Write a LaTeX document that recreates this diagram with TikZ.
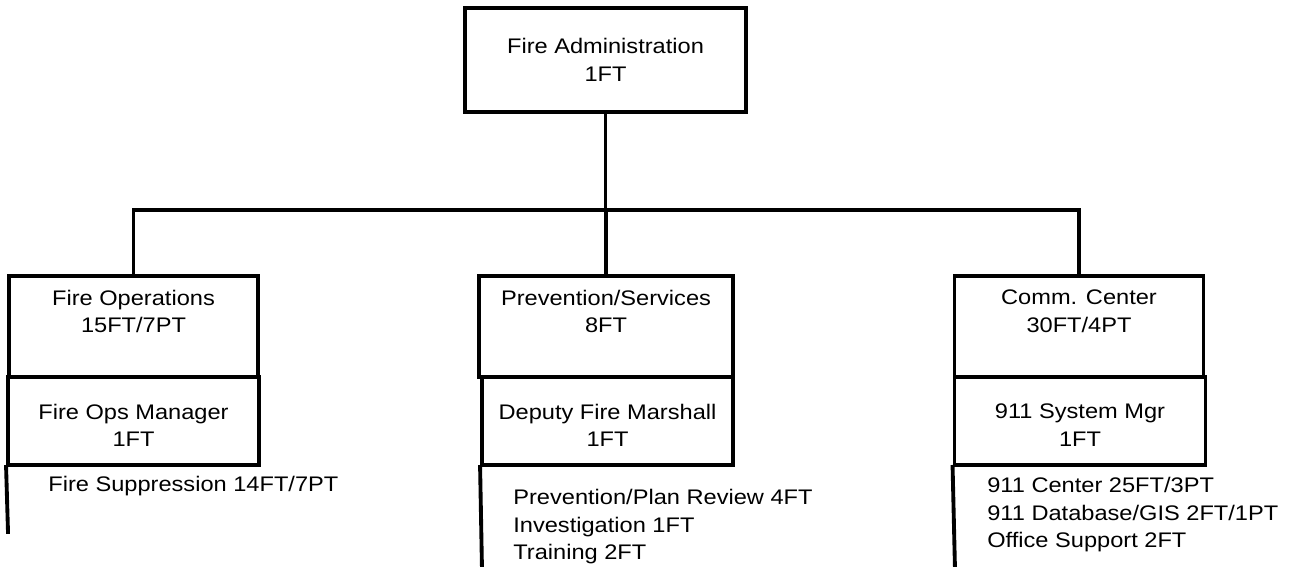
\documentclass[tikz,border=0pt]{standalone}
\usepackage{fontspec}
\setmainfont{Liberation Sans}[FakeStretch=1.12]
\usetikzlibrary{
  positioning,
  calc}
\definecolor{linecolor}{RGB}{0,0,0}
\tikzset{
  %% office : the head of the department
  office/.style={
    rectangle,
    draw=linecolor,
    line width=2.2pt,
    minimum width=5.62cm,
    minimum height=2.08cm,
    align=center
  },
  %% division : a division, text sits in the upper part
  division/.style={
    rectangle,
    draw=linecolor,
    line width=2.2pt,
    minimum width=4.98cm,
    minimum height=2.02cm,
    label={[align=center, anchor=north, inner sep=0pt, yshift=-0.31cm]north:{#1}}
  },
  %% manager : the manager below a division
  manager/.style={
    rectangle,
    draw=linecolor,
    line width=2.2pt,
    minimum width=5.02cm,
    minimum height=1.76cm,
    label={[align=center, anchor=north, inner sep=0pt, yshift=-0.57cm]north:{#1}}
  },
  %% staff : the list of sections below a manager
  staff/.style={
    align=left,
    inner sep=0pt
  },
  %% link : connection between boxes
  link/.style={linecolor, line width=2.2pt, line cap=rect}
}

\begin{document}
\begin{tikzpicture}
  [x=0.02cm,
  y=-0.02cm,
  font=\fontsize{12}{15.6}\selectfont]

  \useasboundingbox (0, 0) rectangle (1290, 567);

  %% Head
  \node (admin) [office] at (605.5, 60) {%
    Fire Administration\\ 1FT};

  %% Divisions
  \node (ops) [division={Fire Operations\\ 15FT/7PT}] at (133.5, 326.5) {};
  \node (prev) [division={Prevention/Services\\ 8FT}, minimum width=5.08cm]
    at (606, 326.5) {};
  \node (comm) [division={Comm. Center\\ 30FT/4PT}] at (1079, 326.5) {};

  %% Managers
  \node (opsmgr) [manager={Fire Ops Manager\\ 1FT}] at (133.5, 421) {};
  \node (dfm) [manager={Deputy Fire Marshall\\ 1FT}] at (607.5, 421) {};
  \node (sysmgr) [manager={911 System Mgr\\ 1FT}] at (1080, 421) {};

  %% Sections
  \node (opsstaff) [staff, anchor=west] at (48, 486) {%
    Fire Suppression 14FT/7PT};
  \node (prevstaff) [staff, anchor=north west] at (513, 489) {%
    Prevention/Plan Review 4FT\\
    Investigation 1FT\\
    Training 2FT};
  \node (commstaff) [staff, anchor=north west] at (987, 477) {%
    911 Center 25FT/3PT\\
    911 Database/GIS 2FT/1PT\\
    Office Support 2FT};

  %% Connections
  \coordinate (bus) at (605.5, 210);
  \draw [link] (admin.south) -- (bus);
  \draw [link] (ops.north) -- (ops.north |- bus)
    -- (comm.north |- bus) -- (comm.north);
  \draw [link] (prev.north) -- (prev.north |- bus);

  \coordinate (opsend) at (8, 532);
  \coordinate (prevend) at (482, 570);
  \coordinate (commend) at (955, 570);
  \draw [link] (opsmgr.south west) -- (opsend);
  \draw [link] (dfm.south west) -- (prevend);
  \draw [link] (sysmgr.south west) -- (commend);

\end{tikzpicture}
\end{document}
